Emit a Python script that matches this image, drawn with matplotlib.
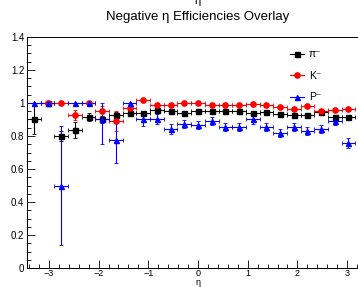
import numpy as np
import matplotlib
matplotlib.use("Agg")
import matplotlib.pyplot as plt
from matplotlib.lines import Line2D
from matplotlib.ticker import MultipleLocator, FuncFormatter

plt.rcParams['font.family'] = ['Liberation Sans', 'DejaVu Sans']

# bin centres in eta (bin width 0.275)
bin_width = 0.275
eta = np.arange(-12, 12) * bin_width

# pi- efficiency
pi_eff = [0.90, 1.00, 0.80, 0.836, 0.917, 0.90, 0.93, 0.937, 0.94, 0.957, 0.95, 0.941,
          0.95, 0.95, 0.95, 0.95, 0.937, 0.945, 0.933, 0.93, 0.925, 0.945, 0.913, 0.913]
pi_err = [0.09, 0.0, 0.03, 0.05, 0.025, 0.02, 0.015, 0.01, 0.01, 0.01, 0.01, 0.01,
          0.01, 0.01, 0.01, 0.01, 0.01, 0.01, 0.01, 0.01, 0.01, 0.01, 0.01, 0.01]

# K- efficiency
k_eff = [np.nan, 1.00, 1.00, 0.927, 1.00, 0.953, 0.89, 0.97, 1.018, 0.99, 0.986, 0.998,
         1.002, 0.988, 0.988, 0.988, 0.994, 0.988, 0.974, 0.966, 0.98, 0.953, 0.957, 0.966]
k_err = [0.0, 0.0, 0.0, 0.03, 0.0, 0.03, 0.06, 0.015, 0.01, 0.01, 0.01, 0.01,
         0.01, 0.01, 0.01, 0.01, 0.01, 0.01, 0.01, 0.01, 0.01, 0.01, 0.01, 0.01]

# P- efficiency (asymmetric errors)
p_eff = [1.00, 1.00, 0.50, 1.00, 1.00, 0.90, 0.776, 1.00, 0.90, 0.905, 0.842, 0.873,
         0.867, 0.893, 0.853, 0.853, 0.90, 0.853, 0.816, 0.855, 0.832, 0.844, 0.893, 0.76]
p_err_lo = [0.0, 0.0, 0.36, 0.0, 0.0, 0.15, 0.14, 0.03, 0.04, 0.03, 0.03, 0.025,
            0.025, 0.025, 0.025, 0.025, 0.025, 0.025, 0.025, 0.025, 0.025, 0.025, 0.025, 0.03]
p_err_hi = [0.0, 0.0, 0.36, 0.0, 0.0, 0.10, 0.15, 0.0, 0.04, 0.03, 0.03, 0.025,
            0.025, 0.025, 0.025, 0.025, 0.025, 0.025, 0.025, 0.025, 0.025, 0.025, 0.025, 0.03]

labels = ["π⁻", "K⁻", "P⁻"]

fig = plt.figure(figsize=(3.58, 2.87), dpi=100)
# axis runs past the right edge of the picture, as in the reference crop
ax = fig.add_axes([27/358, 19/287, 342/358, 231/287])

xerr = bin_width / 2
ax.errorbar(eta, pi_eff, xerr=xerr, yerr=pi_err, fmt='s', color='black',
            ms=3.6, lw=0.8, capsize=1.2, capthick=0.6)
ax.errorbar(eta, k_eff, xerr=xerr, yerr=k_err, fmt='o', color='red',
            ms=3.8, lw=0.8, capsize=1.2, capthick=0.6)
ax.errorbar(eta, p_eff, xerr=xerr, yerr=[p_err_lo, p_err_hi], fmt='^', color='blue',
            ms=3.6, lw=0.8, capsize=1.2, capthick=0.6)

ax.set_xlim(-3.44, 3.44)
ax.set_ylim(0, 1.4)
ax.xaxis.set_major_locator(MultipleLocator(1))
ax.xaxis.set_minor_locator(MultipleLocator(0.2))
ax.yaxis.set_major_locator(MultipleLocator(0.2))
ax.yaxis.set_minor_locator(MultipleLocator(0.05))
ax.yaxis.set_major_formatter(FuncFormatter(lambda v, p: "%g" % round(v, 2)))
ax.tick_params(which='both', direction='in', labelsize=7, width=0.6, pad=2)
ax.tick_params(which='major', length=6)
ax.tick_params(which='minor', length=3)
ax.tick_params(axis='x', labelsize=6.5, pad=0.5)
for s in ax.spines.values():
    s.set_linewidth(0.7)

# x-axis title placed just under the tick labels
fig.text(198/358, 0, "η", ha='center', va='bottom', fontsize=6.5)

handles = [
    Line2D([], [], color='black', marker='s', ms=3.6, lw=0.8),
    Line2D([], [], color='red', marker='o', ms=3.8, lw=0.8),
    Line2D([], [], color='blue', marker='^', ms=3.6, lw=0.8),
]
fig.legend(handles, labels, loc='upper left', bbox_to_anchor=(281/358, 1 - 40/287),
           frameon=False, fontsize=7.5, handlelength=1.3, handletextpad=0.5,
           labelspacing=1.1)

fig.text(198/358, 1 - 17/287, "Negative η Efficiencies Overlay", ha='center',
         va='center', fontsize=9.5)
# remnant of a label cut off by the top edge, as in the reference
fig.text(198/358, 1 - 1/287, "η", ha='center', va='center', fontsize=8)

fig.savefig("out.png", dpi=100)
